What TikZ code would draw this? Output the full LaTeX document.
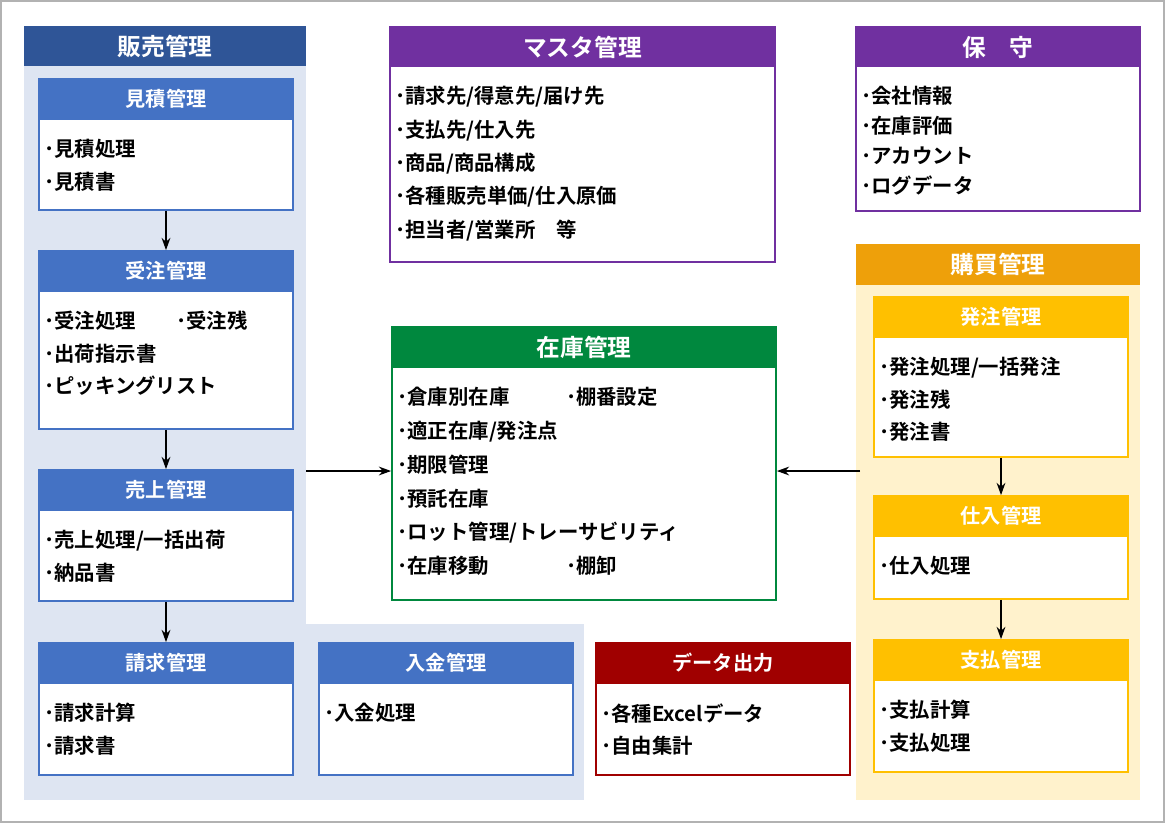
\documentclass[tikz,border=0pt]{standalone}
\usepackage{fontspec}
\newfontfamily\jpb[BoldFont={Noto Sans CJK JP Bold}]{Noto Sans CJK JP Bold}
\usetikzlibrary{fit, arrows.meta}

\definecolor{salesdark}{HTML}{2F5597}
\definecolor{salesblue}{HTML}{4472C4}
\definecolor{salesbg}{HTML}{DEE5F2}
\definecolor{masterpurple}{HTML}{7030A0}
\definecolor{buygold}{HTML}{FFC000}
\definecolor{buyorange}{HTML}{EEA00A}
\definecolor{buybg}{HTML}{FFF2CC}
\definecolor{stockgreen}{HTML}{00883E}
\definecolor{datared}{HTML}{A00000}

\tikzset{
  headtext/.style={font=\jpb\fontsize{11.5}{14}\selectfont, text=white, inner sep=0},
  titletext/.style={font=\jpb\fontsize{13.5}{16}\selectfont, text=white, inner sep=0},
  itemtext/.style={font=\jpb\fontsize{11.6}{18.5}\selectfont, align=left, inner sep=0, anchor=north west},
  flow/.style={-{Stealth[length=7pt,width=5pt]}, line width=0.8pt}
}

% name, x1, y1, x2, y2, colour, title, items
\newcommand\panel[8]{%
  \node[fit={(#2,#3)(#4,#5)}, inner sep=0, draw=#6, fill=white, line width=1pt] (#1) {};
  \node[fit={(#2,#3)(#4,#3+40)}, inner sep=0, draw=#6, fill=#6, line width=1pt] (#1-h) {};
  \node[headtext] at (#1-h) {#7};
  \node[itemtext] at (#2+5,#3+60) {#8};}

\begin{document}
\begin{tikzpicture}[x=0.02cm, y=-0.02cm]
  \useasboundingbox (0,0) rectangle (1165,823);
  \draw[gray!60, line width=1pt] (1,1) rectangle (1164,822);

  % sales
  \node[fit={(24,62)(306,800)}, inner sep=0, fill=salesbg] (hanbai) {};
  \fill[salesbg] (306,624) rectangle (584,800);
  \node[fit={(24,26)(306,66)}, inner sep=0, fill=salesdark] (hanbai-t) {};
  \node[titletext] at (hanbai-t) {販売管理};

  \panel{mitsumori}{39}{79}{293}{210}{salesblue}{見積管理}{･見積処理\\･見積書}
  \panel{juchu}{39}{251}{293}{429}{salesblue}{受注管理}{\makebox[75pt][l]{･受注処理}･受注残\\･出荷指示書\\･ピッキングリスト}
  \panel{uriage}{39}{470}{293}{601}{salesblue}{売上管理}{･売上処理/一括出荷\\･納品書}
  \panel{seikyu}{39}{643}{293}{775}{salesblue}{請求管理}{･請求計算\\･請求書}
  \panel{nyukin}{319}{643}{573}{775}{salesblue}{入金管理}{･入金処理}

  % master, maintenance
  \node[fit={(390,27)(775,262)}, inner sep=0, draw=masterpurple, fill=white, line width=1pt] (master) {};
  \node[fit={(390,27)(775,67)}, inner sep=0, fill=masterpurple] (master-h) {};
  \node[titletext] at (master-h) {マスタ管理};
  \node[itemtext, font=\jpb\fontsize{11.6}{19}\selectfont] at (395,86) {･請求先/得意先/届け先\\･支払先/仕入先\\･商品/商品構成\\･各種販売単価/仕入原価\\･担当者/営業所\quad 等};

  \node[fit={(856,27)(1140,211)}, inner sep=0, draw=masterpurple, fill=white, line width=1pt] (hoshu) {};
  \node[fit={(856,27)(1140,67)}, inner sep=0, fill=masterpurple] (hoshu-h) {};
  \node[titletext] at (hoshu-h) {保\quad 守};
  \node[itemtext, font=\jpb\fontsize{11.6}{17}\selectfont] at (861,86) {･会社情報\\･在庫評価\\･アカウント\\･ログデータ};

  % purchase
  \node[fit={(856,244)(1140,800)}, inner sep=0, fill=buybg] (kobai) {};
  \node[fit={(856,244)(1140,285)}, inner sep=0, fill=buyorange] (kobai-t) {};
  \node[titletext] at (kobai-t) {購買管理};
  \panel{hatchu}{874}{297}{1128}{457}{buygold}{発注管理}{･発注処理/一括発注\\･発注残\\･発注書}
  \panel{shiire}{874}{496}{1128}{599}{buygold}{仕入管理}{･仕入処理}
  \panel{shiharai}{874}{640}{1128}{772}{buygold}{支払管理}{･支払計算\\･支払処理}

  % stock, data
  \node[fit={(392,327)(776,600)}, inner sep=0, draw=stockgreen, fill=white, line width=1pt] (zaiko) {};
  \node[fit={(392,327)(776,368)}, inner sep=0, fill=stockgreen] (zaiko-h) {};
  \node[titletext] at (zaiko-h) {在庫管理};
  \node[itemtext, font=\jpb\fontsize{11.6}{19.2}\selectfont] at (397,387) {\makebox[96pt][l]{･倉庫別在庫}･棚番設定\\･適正在庫/発注点\\･期限管理\\･預託在庫\\･ロット管理/トレーサビリティ\\\makebox[96pt][l]{･在庫移動}･棚卸};

  \panel{data}{596}{643}{850}{775}{datared}{データ出力}{･各種Excelデータ\\･自由集計}

  % flows
  \draw[flow] (mitsumori) -- (juchu-h);
  \draw[flow] (juchu) -- (uriage-h);
  \draw[flow] (uriage) -- (seikyu-h);
  \draw[flow] (hatchu) -- (shiire-h);
  \draw[flow] (shiire) -- (shiharai-h);
  \draw[flow] (hanbai.east |- 0,471) -- (zaiko.west |- 0,471);
  \draw[flow] (860,471) -- (zaiko.east |- 0,471);
\end{tikzpicture}
\end{document}
